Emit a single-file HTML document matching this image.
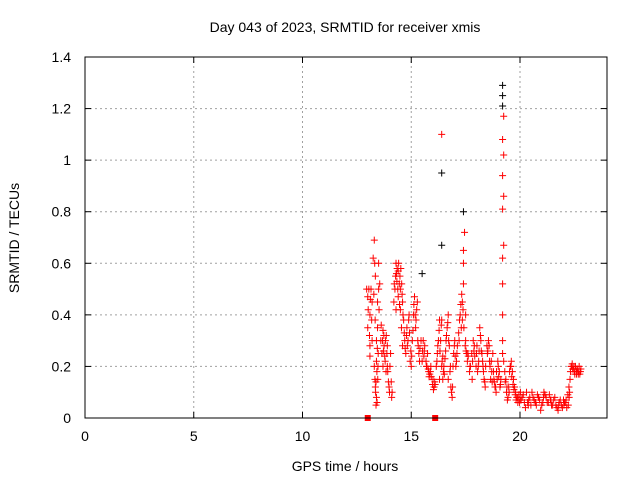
<!DOCTYPE html>
<html><head><meta charset="utf-8"><style>
body{margin:0;background:#fff}
svg text{font-family:"Liberation Sans",sans-serif;font-size:14px;fill:#000}
</style></head><body>
<svg id="chart" width="640" height="480" viewBox="0 0 640 480" xmlns="http://www.w3.org/2000/svg">
<rect width="640" height="480" fill="#fff"/>
<text x="345" y="32" text-anchor="middle">Day 043 of 2023, SRMTID for receiver xmis</text>
<text transform="translate(19,238) rotate(-90)" text-anchor="middle">SRMTID / TECUs</text>
<text x="345" y="471" text-anchor="middle">GPS time / hours</text>
<g id="grid"></g><g id="axes"></g><g id="marks"></g>
<rect x="85" y="57" width="522" height="361" fill="none" stroke="#000" stroke-width="1"/>
</svg>
<script>
const xTicks=[0,5,10,15,20];
const yTicks=[0,0.2,0.4,0.6,0.8,1,1.2,1.4];
const yTickLabels=["0","0.2","0.4","0.6","0.8","1","1.2","1.4"];
const redTimes=[12.95,13.0,13.05,13.0,13.1,13.1,13.15,13.2,13.1,13.2,
13.3,13.32,13.35,13.3,13.35,13.4,13.4,13.45,13.5,13.45,13.42,13.38,13.48,13.5,13.55,
13.6,13.65,13.7,13.7,13.75,13.8,13.85,13.9,13.95,14.0,13.9,14.05,14.1,
14.2,14.25,14.3,14.35,14.4,14.45,14.5,14.3,14.4,14.5,14.55,14.6,14.65,14.7,14.6,
14.75,14.8,14.85,14.9,14.95,15.0,15.05,15.1,15.15,15.2,15.25,15.3,15.35,15.4,
15.5,15.55,15.6,15.7,15.8,15.85,15.9,16.0,16.05,16.1,15.75,
16.15,16.2,16.25,16.3,16.35,16.4,16.45,16.5,16.55,16.4,16.4,16.3,
16.6,16.65,16.7,16.75,16.8,16.85,16.9,16.95,17.0,17.05,16.7,
17.1,17.2,17.25,17.3,17.35,17.4,17.4,17.4,17.45,17.35,17.5,17.55,17.5,
17.6,17.7,17.8,17.85,17.9,18.0,18.05,18.1,18.15,18.2,18.25,18.3,18.35,18.4,
18.5,18.55,18.6,18.7,18.75,18.8,18.85,18.9,18.95,19.0,19.05,19.1,18.65,
19.2,19.2,19.2,19.25,19.2,19.25,19.2,19.25,19.2,19.25,19.2,19.2,19.25,19.3,
19.35,19.4,19.45,19.5,19.55,19.6,19.65,19.7,19.75,19.8,19.85,19.9,19.95,20.0,
20.1,20.2,20.3,20.4,20.5,20.6,20.7,20.8,20.9,21.0,21.1,21.2,21.3,21.4,21.5,21.6,21.7,21.8,21.9,22.0,22.1,22.2,22.25,20.25,20.55,20.95,21.35,21.75,22.15,
22.3,22.35,22.4,22.45,22.5,22.55,22.6,22.65,22.7,22.75,22.8,16.45,
13.02,13.08,13.12,13.18,13.25,13.28,13.33,13.36,13.4,13.43,13.46,13.52,13.34,13.44,13.38,13.47,
13.62,13.68,13.72,13.78,13.82,13.88,13.92,13.98,14.02,14.08,14.12,13.74,13.84,
14.22,14.28,14.32,14.38,14.42,14.48,14.52,14.58,14.62,14.68,14.72,14.34,14.46,14.56,
14.78,14.82,14.88,14.92,14.98,15.02,15.08,15.12,15.18,15.22,15.28,15.32,15.38,15.45,
15.52,15.58,15.62,15.68,15.72,15.78,15.82,15.88,15.92,15.98,16.02,16.08,
16.18,16.22,16.28,16.32,16.38,16.42,16.48,16.52,16.58,16.62,16.68,16.72,16.78,16.82,16.88,16.92,16.98,17.02,17.08,
17.12,17.18,17.22,17.28,17.32,17.38,17.42,17.48,17.52,17.58,17.62,17.68,17.72,17.78,17.82,17.88,17.92,17.98,
18.02,18.08,18.12,18.18,18.22,18.28,18.32,18.38,18.42,18.48,18.52,18.58,18.62,18.68,18.72,18.78,18.82,18.88,18.92,18.98,19.02,19.08,19.12,
19.32,19.38,19.42,19.48,19.52,19.58,19.62,19.68,19.72,19.78,19.82,19.88,19.92,19.98,
20.05,20.15,20.35,20.45,20.65,20.75,20.85,21.05,21.15,21.25,21.45,21.55,21.65,21.85,21.95,22.05,22.12,22.22,20.02,20.38,20.72,21.08,21.42,21.78,22.02,
22.32,22.38,22.42,22.48,22.52,22.58,22.62,22.68,22.72,22.78,22.28,22.26];
const redValues=[0.5,0.47,0.5,0.35,0.28,0.4,0.5,0.45,0.24,0.3,
0.69,0.6,0.55,0.2,0.12,0.08,0.3,0.35,0.6,0.45,0.18,0.05,0.25,0.5,0.52,
0.3,0.25,0.2,0.34,0.28,0.22,0.32,0.2,0.14,0.1,0.28,0.25,0.08,
0.45,0.5,0.6,0.58,0.57,0.52,0.5,0.42,0.47,0.42,0.35,0.45,0.38,0.3,0.28,
0.25,0.35,0.3,0.4,0.22,0.2,0.3,0.4,0.47,0.35,0.42,0.3,0.25,0.27,
0.22,0.3,0.26,0.2,0.18,0.17,0.2,0.15,0.12,0.13,0.25,
0.2,0.25,0.3,0.38,0.3,0.2,0.15,0.2,0.23,0.38,1.1,0.15,
0.3,0.35,0.4,0.28,0.2,0.1,0.12,0.25,0.3,0.2,0.15,
0.25,0.3,0.4,0.35,0.45,0.52,0.6,0.65,0.72,0.38,0.3,0.25,0.4,
0.25,0.2,0.15,0.3,0.28,0.25,0.18,0.22,0.35,0.3,0.25,0.2,0.15,0.12,
0.25,0.3,0.22,0.18,0.25,0.15,0.12,0.1,0.15,0.2,0.18,0.13,0.15,
0.4,0.52,0.62,0.67,0.81,0.86,0.94,1.02,1.08,1.17,0.3,0.25,0.22,0.18,
0.15,0.12,0.08,0.1,0.2,0.22,0.18,0.15,0.12,0.1,0.08,0.06,0.09,0.07,
0.08,0.06,0.1,0.07,0.05,0.08,0.06,0.09,0.07,0.05,0.1,0.08,0.06,0.07,0.05,0.08,0.04,0.06,0.05,0.07,0.06,0.09,0.12,0.04,0.1,0.03,0.09,0.03,0.04,
0.15,0.2,0.21,0.19,0.18,0.2,0.17,0.19,0.18,0.17,0.19,0.24,
0.42,0.32,0.46,0.38,0.62,0.48,0.15,0.1,0.22,0.06,0.15,0.42,0.38,0.27,0.14,0.2,
0.36,0.3,0.26,0.24,0.3,0.25,0.18,0.12,0.2,0.14,0.1,0.32,0.18,
0.52,0.55,0.56,0.5,0.6,0.55,0.58,0.48,0.4,0.33,0.27,0.53,0.44,0.52,
0.32,0.28,0.38,0.33,0.26,0.24,0.34,0.44,0.4,0.38,0.45,0.28,0.22,0.3,
0.26,0.24,0.28,0.22,0.2,0.19,0.16,0.18,0.16,0.13,0.11,0.14,
0.22,0.28,0.34,0.26,0.36,0.22,0.18,0.17,0.26,0.32,0.37,0.3,0.18,0.12,0.08,0.2,0.28,0.24,0.22,
0.28,0.33,0.38,0.44,0.48,0.42,0.35,0.28,0.26,0.22,0.24,0.18,0.2,0.25,0.22,0.26,0.24,0.2,
0.28,0.2,0.26,0.32,0.26,0.22,0.18,0.14,0.2,0.28,0.26,0.28,0.2,0.22,0.14,0.18,0.14,0.12,0.18,0.22,0.16,0.12,0.15,
0.14,0.1,0.07,0.12,0.18,0.2,0.16,0.13,0.11,0.09,0.07,0.08,0.07,0.06,
0.07,0.09,0.06,0.08,0.07,0.05,0.08,0.06,0.09,0.06,0.05,0.07,0.05,0.07,0.04,0.06,0.07,0.05,0.1,0.05,0.06,0.08,0.07,0.05,0.05,
0.18,0.2,0.19,0.2,0.17,0.19,0.18,0.17,0.2,0.18,0.1,0.08];
const blackTimes=[19.2,19.2,19.2,16.4,16.4,17.4,15.5];
const blackValues=[1.29,1.25,1.21,0.95,0.67,0.8,0.56];
const zeroTimes=[13.0,16.1];
const NS="http://www.w3.org/2000/svg";
const X0=85,X1=607,Y0=418,Y1=57;
function xs(t){return X0+t/24*(X1-X0);}
function ys(v){return Y0-v/1.4*(Y0-Y1);}
function mk(tag,attrs,parent){const e=document.createElementNS(NS,tag);for(const k in attrs)e.setAttribute(k,attrs[k]);parent.appendChild(e);return e;}
const grid=document.getElementById('grid'),axes=document.getElementById('axes'),marks=document.getElementById('marks');
xTicks.forEach(t=>{
 const x=xs(t);
 if(t>0){const g=mk('line',{x1:x,x2:x,y1:Y0,y2:Y1,stroke:'#a0a0a0','stroke-dasharray':'2,3'},grid);
 
 }
 mk('line',{x1:x,x2:x,y1:Y0,y2:Y0-6,stroke:'#000'},axes);
 mk('line',{x1:x,x2:x,y1:Y1,y2:Y1+6,stroke:'#000'},axes);
 const l=mk('text',{x:x,y:Y0+23,'text-anchor':'middle'},axes);l.textContent=t;
 
 
});
yTicks.forEach((v,i)=>{
 const y=ys(v);
 if(v>0&&v<1.4){const g=mk('line',{x1:X0,x2:X1,y1:y,y2:y,stroke:'#a0a0a0','stroke-dasharray':'2,3'},grid);
 
 }
 mk('line',{x1:X0,x2:X0+6,y1:y,y2:y,stroke:'#000'},axes);
 mk('line',{x1:X1,x2:X1-6,y1:y,y2:y,stroke:'#000'},axes);
 const l=mk('text',{x:X0-14,y:y+5,'text-anchor':'end'},axes);l.textContent=yTickLabels[i];
 
 
});
function plus(t,v,col,name){
 const x=xs(t),y=ys(v);
 const p=mk('path',{d:`M${x-3.5},${y}h7M${x},${y-3.5}v7`,stroke:col,'stroke-width':1,fill:'none'},marks);
 
 
}
blackTimes.forEach((t,i)=>plus(t,blackValues[i],'#000','black-point'));
redTimes.forEach((t,i)=>plus(t,redValues[i],'#f00','red-point'));
zeroTimes.forEach(t=>{
 const r=mk('rect',{x:xs(t)-3,y:Y0-3,width:6,height:6,fill:'#f00'},marks);
 
 
});
</script>
</body></html>
